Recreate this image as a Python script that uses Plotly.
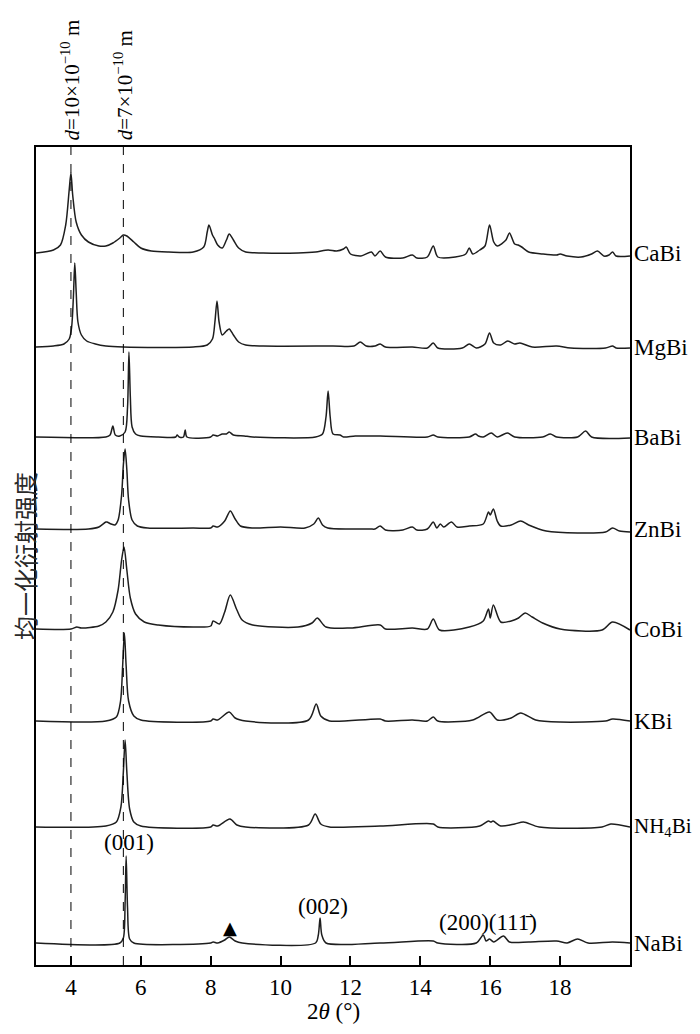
import plotly.graph_objects as go

# ------------------------
# Data (2theta in degrees, normalised intensity above each baseline)
# ------------------------

samples = ["CaBi", "MgBi", "BaBi", "ZnBi", "CoBi", "KBi", "NH4Bi", "NaBi"]
sample_labels = ["CaBi", "MgBi", "BaBi", "ZnBi", "CoBi", "KBi", "NH<sub>4</sub>Bi", "NaBi"]
offsets = [712, 618, 528, 436, 336, 244, 138, 22]

cabi_x = [3.0, 3.5, 3.7, 3.85, 3.95, 4.0, 4.05, 4.15, 4.3, 4.5, 4.8, 5.0, 5.2, 5.4, 5.5, 5.6,
          5.8, 6.0, 6.3, 6.8, 7.5, 7.8, 7.9, 7.95, 8.05, 8.1, 8.2, 8.33, 8.45, 8.53, 8.65, 8.8,
          9.0, 9.5, 10.5, 11.0, 11.36, 11.6, 11.8, 11.88, 12.0, 12.3, 12.6, 12.7, 12.85, 13.0,
          13.5, 13.77, 13.9, 14.2, 14.37, 14.5, 15.0, 15.3, 15.4, 15.5, 15.7, 15.85, 15.98,
          16.1, 16.2, 16.45, 16.55, 16.7, 16.8, 16.9, 17.1, 17.5, 17.9, 18.0, 18.2, 18.6, 18.9,
          19.07, 19.25, 19.4, 19.5, 19.6, 20.0]
cabi_y = [0, 3, 8, 28, 63, 80, 58, 31, 18, 11, 7, 7, 10, 15, 18, 17,
          11, 5, 2, 1, 1, 6, 21, 28, 18, 15, 8, 5, 13, 19, 13, 5,
          1, 0, 0, 1, 3, 2, 4, 6, -1, -3, 1, -3, 2, -4,
          -5, -2, -5, -4, 7, -4, -4, -1, 5, -1, 3, 7, 28,
          11, 7, 13, 20, 9, 8, 6, 1, -1, -2, -1, -3, -4, -1,
          2, -3, -2, 1, -3, -3]

mgbi_x = [3.0, 3.5, 3.8, 3.95, 4.02, 4.07, 4.11, 4.15, 4.2, 4.3, 4.45, 4.7, 5.0, 5.5, 7.5,
          7.9, 8.05, 8.12, 8.18, 8.24, 8.33, 8.45, 8.53, 8.65, 8.8, 9.0, 9.5, 11.5, 12.1,
          12.28, 12.45, 12.7, 12.85, 13.0, 13.77, 14.2, 14.37, 14.5, 15.2, 15.4, 15.6, 15.85,
          15.98, 16.1, 16.3, 16.5, 16.7, 16.85, 17.2, 17.9, 18.3, 19.3, 19.5, 19.6, 20.0]
mgbi_y = [0, 1, 3, 8, 20, 50, 84, 55, 25, 12, 6, 3, 1, 0, 0,
          2, 8, 25, 46, 25, 12, 16, 18, 12, 5, 2, 1, 1, 1,
          5, 1, 1, 3, 0, 0, -1, 4, -1, -1, 3, -1, 3,
          14, 4, 2, 6, 3, 4, 0, 1, -1, -1, 1, -1, -1]

babi_x = [3.0, 5.0, 5.12, 5.2, 5.27, 5.4, 5.55, 5.62, 5.66, 5.7, 5.75, 5.85, 6.0, 6.5, 7.0,
          7.04, 7.1, 7.22, 7.27, 7.32, 8.0, 8.07, 8.2, 8.33, 8.45, 8.53, 8.65, 8.96, 9.2,
          11.0, 11.2, 11.3, 11.36, 11.42, 11.5, 11.7, 11.8, 12.14, 12.85, 14.2, 14.37, 14.5,
          15.4, 15.58, 15.66, 15.8, 16.03, 16.2, 16.49, 16.7, 17.5, 17.72, 17.9, 18.5, 18.73,
          18.9, 20.0]
babi_y = [0, 0, 2, 11, 2, 1, 5, 30, 85, 40, 10, 3, 1, 0, 0,
          2, 0, 0, 7, 0, 0, 2, 1, 3, 3, 5, 2, 1, 0,
          0, 3, 20, 46, 20, 3, 2, 0, 1, 1, 0, 2, 0,
          0, 3, 1, 0, 4, 0, 4, 0, 0, 3, 0, 0, 6,
          0, -1]

znbi_x = [3.0, 4.5, 4.8, 5.0, 5.03, 5.15, 5.26, 5.35, 5.45, 5.5, 5.55, 5.6, 5.65, 5.75, 5.9,
          6.2, 7.5, 8.0, 8.07, 8.2, 8.4, 8.56, 8.7, 8.85, 9.2, 10.0, 10.7, 10.95, 11.08, 11.2,
          11.35, 12.0, 12.57, 12.7, 12.85, 13.0, 13.5, 13.77, 13.9, 14.2, 14.37, 14.47, 14.57,
          14.67, 14.89, 15.05, 15.4, 15.8, 15.95, 16.0, 16.09, 16.2, 16.3, 16.6, 16.87, 17.1,
          17.6, 18.5, 19.3, 19.5, 19.7, 20.0]
znbi_y = [0, 0, 2, 7, 7, 5, 4, 9, 34, 64, 80, 59, 29, 9, 3,
          1, 1, 1, 3, 2, 8, 18, 10, 3, 1, 2, 1, 5, 11, 4,
          1, 0, 0, 0, 3, -1, -1, 2, -1, 0, 7, 1, 5,
          2, 7, 2, 3, 5, 17, 14, 20, 8, 3, 4, 8, 4,
          -2, -4, -3, 1, -2, -3]

cobi_x = [3.0, 4.0, 4.17, 4.3, 4.8, 5.0, 5.2, 5.35, 5.45, 5.52, 5.6, 5.7, 5.85, 6.1, 6.5,
          7.5, 8.0, 8.07, 8.25, 8.4, 8.56, 8.75, 8.9, 9.2, 10.5, 10.9, 11.05, 11.3, 12.0,
          12.85, 13.0, 13.77, 14.2, 14.37, 14.55, 15.4, 15.8, 15.95, 16.0, 16.09, 16.3, 16.6,
          16.81, 17.0, 17.2, 17.5, 18.0, 19.2, 19.5, 20.0]
cobi_y = [0, 0, 2, 1, 3, 7, 17, 39, 69, 82, 59, 31, 15, 7, 4,
          2, 3, 8, 5, 17, 34, 19, 9, 4, 2, 6, 11, 2, 1,
          4, 0, 1, 0, 10, -1, 2, 8, 20, 11, 24, 7, 8,
          11, 16, 12, 6, 0, -1, 7, -1]

kbi_x = [3.0, 5.0, 5.3, 5.42, 5.48, 5.53, 5.58, 5.65, 5.8, 6.0, 8.0, 8.07, 8.2, 8.53, 8.7,
         9.0, 10.8, 11.02, 11.15, 11.4, 12.85, 13.0, 13.77, 14.2, 14.37, 14.5, 15.5, 15.98,
         16.2, 16.6, 16.87, 17.3, 18.0, 19.3, 19.5, 20.0]
kbi_y = [0, 0, 4, 20, 55, 88, 55, 20, 5, 1, 0, 2, 1, 9, 3,
         0, 1, 17, 5, 0, 2, 0, 1, 0, 4, 0, 1, 9,
         1, 3, 8, 1, -1, 0, 2, 0]

nh4bi_x = [3.0, 5.0, 5.3, 5.43, 5.5, 5.55, 5.6, 5.68, 5.8, 6.0, 8.0, 8.07, 8.2, 8.55, 8.75,
           9.0, 10.8, 10.99, 11.15, 11.4, 12.85, 14.37, 14.5, 15.7, 15.95, 16.02, 16.08, 16.3,
           16.7, 16.95, 17.4, 19.2, 19.45, 20.0]
nh4bi_y = [0, 1, 5, 20, 55, 87, 55, 18, 5, 1, 0, 2, 1, 8, 2,
           0, 2, 13, 3, 0, 1, 3, 0, 1, 6, 5, 6, 1,
           3, 5, 0, 0, 3, 0]

nabi_x = [3.0, 5.4, 5.5, 5.55, 5.58, 5.62, 5.68, 5.8, 8.0, 8.07, 8.2, 8.4, 8.53, 8.7, 8.9,
          11.0, 11.08, 11.13, 11.18, 11.3, 12.85, 14.37, 14.5, 15.6, 15.8, 15.88, 15.98, 16.1,
          16.38, 16.55, 17.1, 17.9, 18.2, 18.5, 18.8, 19.5, 20.0]
nabi_y = [0, 0, 5, 40, 87, 35, 4, 0, 0, 1, 0, 3, 6, 2, 0,
          0, 8, 25, 8, 0, 0, 2, 0, 0, 8, 2, 4, 1,
          7, 1, 1, 2, 0, 4, 0, 1, 0]

patterns_x = [cabi_x, mgbi_x, babi_x, znbi_x, cobi_x, kbi_x, nh4bi_x, nabi_x]
patterns_y = [cabi_y, mgbi_y, babi_y, znbi_y, cobi_y, kbi_y, nh4bi_y, nabi_y]

# d-spacing reference lines and their labels
d_lines = [4.0, 5.5]
d_labels = ["<i>d</i>=10×10<sup>−10</sup> m", "<i>d</i>=7×10<sup>−10</sup> m"]

# peak annotations on NaBi: (2theta, height above the bottom, text)
peak_x = [5.66, 8.55, 11.2, 15.95]
peak_y = [123, 38, 59, 43]
peak_text = ["(001)", "▲", "(002)", "(200)(11" + "1\u0304" + ")"]

tick_vals = [4, 6, 8, 10, 12, 14, 16, 18]

# ------------------------
# Build figure
# ------------------------

serif = "Liberation Serif, Times New Roman, serif"
line_color = "#1e1e1e"
fs = 23

fig = go.Figure()

for name, xs, ys, off in zip(samples, patterns_x, patterns_y, offsets):
    fig.add_trace(
        go.Scatter(
            x=xs,
            y=[v + off for v in ys],
            mode="lines",
            line=dict(color=line_color, width=1.5, shape="spline", smoothing=0.8),
            name=name,
            showlegend=False,
        )
    )

for xv in d_lines:
    fig.add_shape(
        type="line", x0=xv, x1=xv, xref="x", y0=0, y1=1, yref="paper",
        line=dict(color="black", width=1, dash="dash"),
    )

annotations = []

# rotated d-spacing labels above the frame (kept small enough to fit the page)
for xv, txt in zip(d_lines, d_labels):
    annotations.append(dict(
        x=xv, xref="x", y=1, yref="paper", yshift=5,
        text=txt, textangle=-90, showarrow=False,
        xanchor="center", yanchor="bottom",
        font=dict(family=serif, size=21, color="black"),
    ))

for lab, off in zip(sample_labels, offsets):
    # the NH4Bi label is the widest one and has to stay inside the page
    size = fs - 2 if "sub" in lab else fs
    annotations.append(dict(
        x=1, xref="paper", xshift=2, y=off, yref="y",
        text=lab, showarrow=False, xanchor="left", yanchor="middle",
        font=dict(family=serif, size=size, color="black"),
    ))

for xv, yv, txt in zip(peak_x, peak_y, peak_text):
    is_mark = txt == "▲"
    annotations.append(dict(
        x=xv, xref="x", y=yv, yref="y", text=txt, showarrow=False,
        xanchor="center", yanchor="middle",
        font=dict(family="DejaVu Sans" if is_mark else serif,
                  size=18 if is_mark else fs, color="black"),
    ))

# axis titles
annotations.append(dict(
    x=0.5, xref="paper", y=0, yref="paper", yshift=-46,
    text="2<i>θ</i> (°)", showarrow=False, xanchor="center", yanchor="middle",
    font=dict(family=serif, size=fs, color="black"),
))
annotations.append(dict(
    x=0, xref="paper", xshift=-12, y=0.5, yref="paper",
    text="均一化衍射强度", textangle=-90, showarrow=False,
    xanchor="center", yanchor="middle",
    font=dict(family="Noto Sans CJK SC", size=24, color="#2a2a2a"),
))

# page body has an 8px margin, so the figure is laid out 8px smaller
fig.update_layout(
    width=692,
    height=1026,
    margin=dict(l=28, r=70, t=139, b=69),
    plot_bgcolor="white",
    paper_bgcolor="white",
    showlegend=False,
    annotations=annotations,
    font=dict(family=serif, size=fs, color="black"),
)

fig.update_xaxes(
    range=[3, 20],
    tickvals=tick_vals,
    ticks="inside",
    ticklen=9,
    tickwidth=1.5,
    tickcolor="black",
    showline=True,
    linecolor="black",
    linewidth=2,
    mirror=True,
    showgrid=False,
    zeroline=False,
    tickfont=dict(family=serif, size=fs, color="black"),
)

fig.update_yaxes(
    range=[0, 818],
    showticklabels=False,
    ticks="",
    showline=True,
    linecolor="black",
    linewidth=2,
    mirror=True,
    showgrid=False,
    zeroline=False,
)

fig.write_html("out.html")
